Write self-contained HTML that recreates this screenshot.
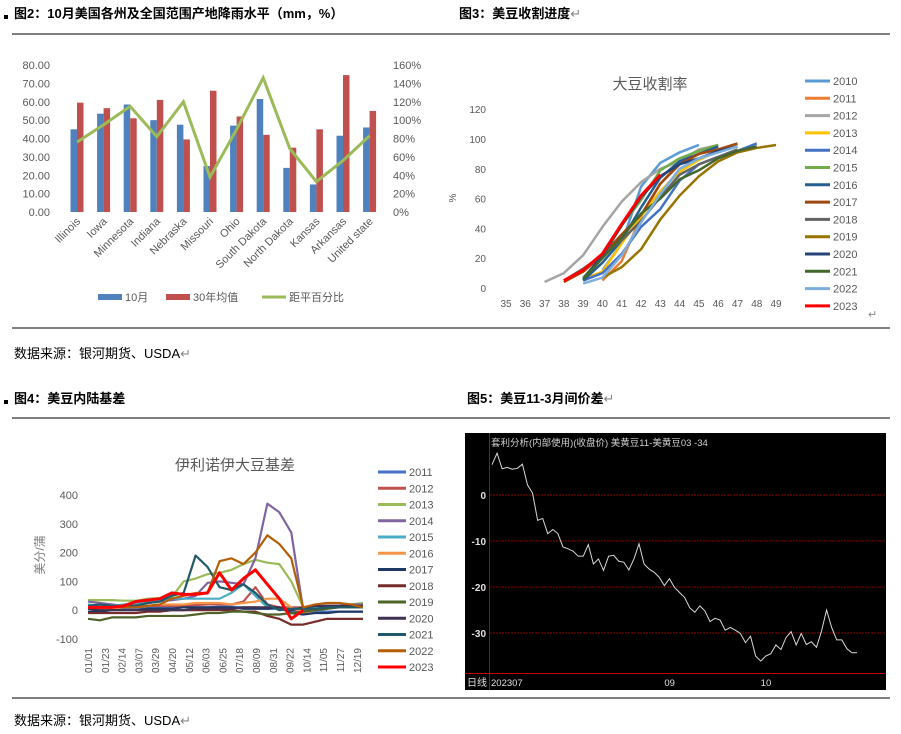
<!DOCTYPE html>
<html><head><meta charset="utf-8">
<style>
html,body{margin:0;padding:0;background:#fff;}
svg{display:block;font-family:"Liberation Sans","Noto Sans CJK SC",sans-serif;}
</style></head>
<body>
<svg id="root" width="901" height="734" viewBox="0 0 901 734">
  <!-- headers -->
  <rect x="4" y="15" width="4" height="4" fill="#000"/>
  <text x="14" y="18" font-size="13" font-weight="bold">图2：10月美国各州及全国范围产地降雨水平（mm，%）</text>
  <text x="459" y="18" font-size="13" font-weight="bold">图3：美豆收割进度<tspan fill="#888" font-weight="normal">↵</tspan></text>
  <line x1="12" y1="34" x2="890" y2="34" stroke="#000" stroke-width="1"/>
  <line x1="12" y1="328" x2="890" y2="328" stroke="#000" stroke-width="1"/>
  <text x="14" y="358" font-size="13">数据来源：银河期货、USDA<tspan fill="#888">↵</tspan></text>
  <rect x="4" y="400" width="4" height="4" fill="#000"/>
  <text x="14" y="403" font-size="13" font-weight="bold">图4：美豆内陆基差</text>
  <text x="467" y="403" font-size="13" font-weight="bold">图5：美豆11-3月间价差<tspan fill="#888" font-weight="normal">↵</tspan></text>
  <line x1="12" y1="418" x2="890" y2="418" stroke="#000" stroke-width="1"/>
  <line x1="12" y1="698" x2="890" y2="698" stroke="#000" stroke-width="1"/>
  <text x="14" y="725" font-size="13">数据来源：银河期货、USDA<tspan fill="#888">↵</tspan></text>
  <text x="868" y="318" font-size="11" fill="#888">↵</text>

  <g id="c1"></g>
  <g id="c2"></g>
  <g id="c4"></g>
  <g id="c5"></g>
</svg>
<script>
// ---------- Chart 1 data ----------
const states = ["Illinois","Iowa","Minnesota","Indiana","Nebraska","Missouri","Ohio","South Dakota","North Dakota","Kansas","Arkansas","United state"];
const octRain = [45,53.5,58.5,50,47.5,25,47,61.5,24,15,41.5,46];
const avgRain = [59.5,56.5,51,61,39.5,66,52,42,35,45,74.5,55];
const pctNormal = [76,95,115,82,120,38,90,146,69,33,56,83];
const leftTicks = ["0.00","10.00","20.00","30.00","40.00","50.00","60.00","70.00","80.00"];
const rightTicks = ["0%","20%","40%","60%","80%","100%","120%","140%","160%"];

// ---------- Chart 2 data ----------
const weeks = [35,36,37,38,39,40,41,42,43,44,45,46,47,48,49];
const harvestYears = ["2010","2011","2012","2013","2014","2015","2016","2017","2018","2019","2020","2021","2022","2023"];
const harvestColors = ["#5B9BD5","#ED7D31","#A5A5A5","#FFC000","#4472C4","#70AD47","#255E91","#9E480E","#636363","#997300","#264478","#43682B","#7CAFDD","#FF0000"];
const harvestStart = [40,40,37,39,39,39,39,38,38,40,39,39,39,38];
const harvestVals = [
 [12,30,68,84,91,96],
 [5,18,48,70,84,90,95],
 [4,10,22,41,58,71,80,85,93,96],
 [6,11,30,48,65,78,86,92,96],
 [5,10,23,41,53,72,83,88,92,97],
 [7,21,42,59,79,87,92,96],
 [5,17,32,54,74,85,90,95],
 [4,11,22,36,49,70,83,90,93,97],
 [5,13,22,32,45,61,76,83,88,93],
 [7,14,26,46,62,75,85,91,94,96],
 [6,22,42,61,75,83,87,92,95],
 [6,20,34,50,60,73,79,87,92,95],
 [3,7,22,44,63,80,87,91,95],
 [5,12,23,43,62,76]
];
const harvestTicks = [0,20,40,60,80,100,120];

// ---------- Chart 4 data ----------
const dateLabels = ["01/01","01/23","02/14","03/07","03/29","04/20","05/12","06/03","06/25","07/18","08/09","08/31","09/22","10/14","11/05","11/27","12/19"];
const basisYears = ["2011","2012","2013","2014","2015","2016","2017","2018","2019","2020","2021","2022","2023"];
const basisColors = ["#4472C4","#C0504D","#9BBB59","#8064A2","#4BACC6","#F79646","#1F3864","#772C2A","#4F6228","#3F3151","#215968","#B45F06","#FF0000"];
const basisVals = [
 [5,5,5,8,8,10,10,10,10,10,10,12,12,10,10,5,5,-5,-5,-5,-5,-5,-5,-5],
 [10,10,10,12,12,15,15,15,15,18,20,20,20,30,80,20,10,10,10,10,15,15,15,15],
 [35,35,35,33,33,40,42,45,100,110,125,130,140,160,175,165,160,100,10,10,10,15,20,25],
 [30,25,20,15,20,25,30,35,40,50,95,100,95,90,180,370,340,270,0,10,15,15,20,20],
 [20,15,15,20,25,30,35,40,40,40,40,40,60,90,50,10,5,5,5,10,10,10,10,10],
 [5,5,5,10,10,15,20,20,20,25,25,25,20,25,30,40,40,10,-10,0,5,10,10,10],
 [-5,-5,0,0,0,5,5,5,10,10,10,10,10,5,5,5,10,-10,-15,-10,-10,-5,-5,-5],
 [-10,-10,-10,-10,-10,-5,-5,0,0,0,0,0,0,-5,-5,-20,-30,-50,-50,-40,-30,-30,-30,-30],
 [-30,-35,-25,-25,-25,-20,-20,-20,-20,-15,-10,-10,-5,-5,-10,-15,-15,-10,-5,0,5,10,10,10],
 [5,0,0,0,0,0,0,0,0,5,5,5,5,10,10,10,10,0,10,15,15,15,15,15],
 [15,20,15,15,15,25,30,50,60,190,150,80,70,90,60,20,0,5,5,5,10,10,10,10],
 [10,10,10,10,10,15,20,40,50,60,60,170,180,160,200,260,230,180,10,20,25,25,20,10],
 [10,10,10,15,30,35,40,60,55,55,60,130,70,110,140,90,40,-30,0]
];
const basisTicks = [-100,0,100,200,300,400];

// ---------- Chart 5 data ----------
const spreadVals = [6.6,9.1,5.7,6,5.6,5.8,6.7,2.2,0.4,-5.5,-5.1,-8.4,-7.5,-8.4,-11.3,-11.7,-12.2,-13.3,-13.3,-10.8,-15,-13.9,-16.4,-13.3,-13.1,-14.4,-14.6,-16.3,-13.9,-10.6,-15,-16.1,-16.8,-17.9,-19.7,-18.2,-20.1,-21.2,-22.3,-24.5,-25.5,-24.1,-25.2,-27.5,-26.8,-27.2,-29.4,-28.8,-29.4,-30.1,-32.1,-30.7,-35,-36.1,-35,-34.5,-32.6,-33.6,-31,-29.7,-32.6,-30.1,-32.5,-31.9,-33.1,-29.6,-25,-28.8,-31.5,-31.5,-33.4,-34.3,-34.3];
const spreadTicks = [0,-10,-20,-30];
const spreadXLabels = ["202307","09","10"];
const spreadXLabelIdx = [0,34,53];

const NS = "http://www.w3.org/2000/svg";
function mk(parent, tag, attrs, txt){
  const el = document.createElementNS(NS, tag);
  for (const k in attrs) el.setAttribute(k, attrs[k]);
  if (txt !== undefined) el.textContent = txt;
  parent.appendChild(el);
  return el;
}
let el;

// ================= Chart 1 =================
(function(){
  const g = document.getElementById("c1");
  const yL = v => 212 - v*1.8375;
  const yR = p => 212 - p/160*147;
  const cx = i => 77 + i*26.6;
  leftTicks.forEach((t,i)=>{
    el = mk(g,"text",{x:50,y:yL(i*10)+4,"font-size":11,fill:"#595959","text-anchor":"end"},t);
    
    
  });
  rightTicks.forEach((t,i)=>{
    el = mk(g,"text",{x:393,y:yR(i*20)+4,"font-size":11,fill:"#595959"},t);
    
    
  });
  states.forEach((s,i)=>{
    const c = cx(i);
    el = mk(g,"rect",{x:c-6.5,y:yL(octRain[i]),width:6.5,height:212-yL(octRain[i]),fill:"#4F81BD"});
    
    
    el = mk(g,"rect",{x:c,y:yL(avgRain[i]),width:6.5,height:212-yL(avgRain[i]),fill:"#C0504D"});
    
    
    el = mk(g,"text",{x:c+4,y:222,"font-size":11,fill:"#595959","text-anchor":"end",transform:`rotate(-45 ${c+4} 222)`},s);
    
    
  });
  el = mk(g,"polyline",{points:pctNormal.map((p,i)=>cx(i)+","+yR(p)).join(" "),fill:"none",stroke:"#9BBB59","stroke-width":3,"stroke-linejoin":"miter"});
  
  
  const leg = [["#4F81BD","rect",98,"10月"],["#C0504D","rect",166,"30年均值"],["#9BBB59","line",262,"距平百分比"]];
  leg.forEach(l=>{
    if(l[1]==="rect") el = mk(g,"rect",{x:l[2],y:294,width:24,height:6,fill:l[0]});
    else el = mk(g,"line",{x1:l[2],y1:297,x2:l[2]+24,y2:297,stroke:l[0],"stroke-width":3});
    
    
    el = mk(g,"text",{x:l[2]+27,y:301,"font-size":11,fill:"#595959"},l[3]);
    
    
  });
})();

// ================= Chart 2 =================
(function(){
  const g = document.getElementById("c2");
  const y = v => 288 - v*1.49;
  const x = w => 506 + (w-35)*19.29;
  el = mk(g,"text",{x:650,y:89,"font-size":15,fill:"#595959","text-anchor":"middle"},"大豆收割率");
  
  
  harvestTicks.forEach(t=>{
    el = mk(g,"text",{x:486,y:y(t)+4,"font-size":10,fill:"#595959","text-anchor":"end"},String(t));
    
    
  });
  weeks.forEach(w=>{
    el = mk(g,"text",{x:x(w),y:307,"font-size":10,fill:"#595959","text-anchor":"middle"},String(w));
    
    
  });
  el = mk(g,"text",{x:456,y:198,"font-size":10,fill:"#595959","text-anchor":"middle",transform:"rotate(-90 456 198)"},"%");
  
  
  harvestYears.forEach((yr,k)=>{
    const pts = harvestVals[k].map((v,j)=>x(harvestStart[k]+j)+","+y(v)).join(" ");
    el = mk(g,"polyline",{points:pts,fill:"none",stroke:harvestColors[k],"stroke-width":k===13?3:2.5,"stroke-linejoin":"round"});
    
    
    const ly = 81 + k*17.3;
    el = mk(g,"line",{x1:805,y1:ly,x2:830,y2:ly,stroke:harvestColors[k],"stroke-width":3});
    
    
    el = mk(g,"text",{x:833,y:ly+4,"font-size":11,fill:"#595959"},yr);
    
    
  });
})();

// ================= Chart 4 =================
(function(){
  const g = document.getElementById("c4");
  const y = v => 610.2 - v*0.288;
  const x = i => 88 + i/23*275;
  el = mk(g,"text",{x:235,y:470,"font-size":15,fill:"#595959","text-anchor":"middle"},"伊利诺伊大豆基差");
  
  
  basisTicks.forEach(t=>{
    el = mk(g,"text",{x:78,y:y(t)+4,"font-size":11,fill:"#595959","text-anchor":"end"},String(t));
    
    
  });
  el = mk(g,"text",{x:44,y:555,"font-size":12,fill:"#808080","text-anchor":"middle",transform:"rotate(-90 44 555)"},"美分/蒲");
  
  
  dateLabels.forEach((d,k)=>{
    const lx = 92 + k*16.8;
    el = mk(g,"text",{x:lx,y:648,"font-size":10,fill:"#595959","text-anchor":"end",transform:`rotate(-90 ${lx} 648)`},d);
    
    
  });
  basisYears.forEach((yr,k)=>{
    const pts = basisVals[k].map((v,i)=>x(i)+","+y(v)).join(" ");
    el = mk(g,"polyline",{points:pts,fill:"none",stroke:basisColors[k],"stroke-width":k===12?3:2.2,"stroke-linejoin":"round"});
    
    
    const ly = 472 + k*16.25;
    el = mk(g,"line",{x1:378,y1:ly,x2:406,y2:ly,stroke:basisColors[k],"stroke-width":3});
    
    
    el = mk(g,"text",{x:409,y:ly+4,"font-size":11,fill:"#595959"},yr);
    
    
  });
})();

// ================= Chart 5 =================
(function(){
  const g = document.getElementById("c5");
  const y = v => 495 - v*4.6;
  const x = i => 492 + i*(365/(spreadVals.length-1));
  el = mk(g,"rect",{x:465,y:433,width:421,height:257,fill:"#000"});
  
  
  spreadTicks.forEach(t=>{
    el = mk(g,"line",{x1:490,y1:y(t),x2:885,y2:y(t),stroke:"#8B0000","stroke-width":1,"stroke-dasharray":"2,1"});
    
    
    el = mk(g,"text",{x:486,y:y(t)+4,"font-size":10,fill:"#e0e0e0","text-anchor":"end","font-weight":"bold"},String(t));
    
    
  });
  el = mk(g,"line",{x1:489.5,y1:433,x2:489.5,y2:690,stroke:"#C00000","stroke-width":1});
  
  
  el = mk(g,"line",{x1:465,y1:673.5,x2:886,y2:673.5,stroke:"#C00000","stroke-width":1});
  
  
  el = mk(g,"text",{x:491,y:446,"font-size":9.5,fill:"#d0d0d0"},"套利分析(内部使用)(收盘价) 美黄豆11-美黄豆03   -34");
  
  
  el = mk(g,"text",{x:467,y:686,"font-size":10,fill:"#e0e0e0"},"日线");
  
  
  spreadXLabels.forEach((l,k)=>{
    el = mk(g,"text",{x:k===0?491:x(spreadXLabelIdx[k]),y:686,"font-size":9.5,fill:"#e0e0e0"},l);
    
    
  });
  el = mk(g,"polyline",{points:spreadVals.map((v,i)=>x(i)+","+y(v)).join(" "),fill:"none",stroke:"#d8d8d8","stroke-width":1});
  
  
})();
</script>
</body></html>
